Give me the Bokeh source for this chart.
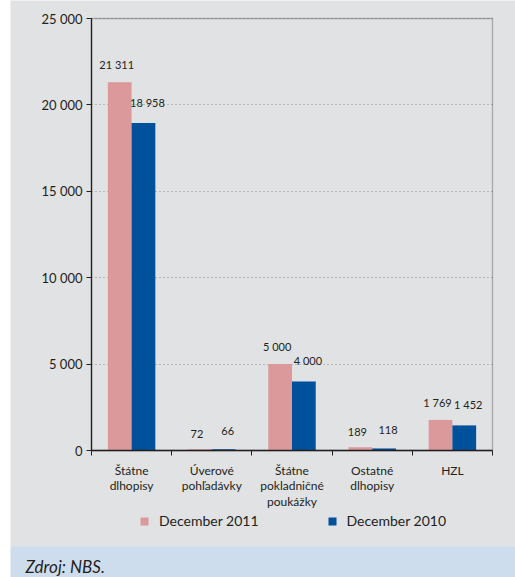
from bokeh.plotting import figure
from bokeh.models import (ColumnDataSource, FixedTicker, LabelSet, Legend,
                          LegendItem, Label, Range1d, BoxAnnotation)
from bokeh.embed import file_html
from bokeh.resources import INLINE
from bokeh.core.properties import value

# ---- data ----
categories = ["Štátne\ndlhopisy", "Úverové\npohľadávky",
              "Štátne\npokladničné\npoukážky", "Ostatné\ndlhopisy", "HZL"]
dec_2011 = [21311, 72, 5000, 189, 1769]
dec_2010 = [18958, 66, 4000, 118, 1452]
series_names = ["December 2011", "December 2010"]
y_ticks = [0, 5000, 10000, 15000, 20000, 25000]
y_tick_labels = ["0", "5 000", "10 000", "15 000", "20 000", "25 000"]
source_note = "Zdroj: NBS."

# ---- styles / layout (pixels) ----
BG = "#E1E2E4"
BAND = "#CEDDEE"
PINK = "#DB999C"
BLUE = "#00519B"
TXT = "#231F20"
FONT = "Lato"
BAR_W = 0.296
OFF = 0.148
W, H = 505, 577            # canvas
BOX_L, BOX_R = 81, 482     # plot box inside canvas (px from left)
BOX_T, BOX_B = 18, 450     # plot box inside canvas (px from top)
BAND_T = 546               # top of the source band (px from top)

n = len(categories)
y_max = y_ticks[-1]
xpp = n / (BOX_R - BOX_L)
ypp = y_max / (BOX_B - BOX_T)


def fmt(v):
    return f"{v:,}".replace(",", " ")


centers = [i + 0.5 for i in range(n)]
src = ColumnDataSource(dict(
    xa=[c - OFF for c in centers], xb=[c + OFF for c in centers],
    a=dec_2011, b=dec_2010,
    la=[fmt(v) for v in dec_2011], lb=[fmt(v) for v in dec_2010]))

p = figure(width=W, height=H,
           x_range=Range1d(-BOX_L * xpp, n + (W - BOX_R) * xpp),
           y_range=Range1d(-(H - BOX_B) * ypp, y_max + BOX_T * ypp),
           output_backend="svg", toolbar_location=None,
           min_border=0, margin=(0, 0, 0, 10))
p.background_fill_color = BG
p.border_fill_color = BG
p.outline_line_color = None

# source band
p.add_layout(BoxAnnotation(top=-(BAND_T - BOX_B) * ypp, fill_color=BAND,
                           fill_alpha=1, line_color=None, level="underlay"))

# plot box
p.add_layout(BoxAnnotation(left=0, right=n, bottom=0, top=y_max,
                           fill_alpha=0, line_color=TXT, line_width=1.3,
                           level="underlay"))

r1 = p.vbar(x="xa", top="a", width=BAR_W, source=src, fill_color=PINK, line_color=None)
r2 = p.vbar(x="xb", top="b", width=BAR_W, source=src, fill_color=BLUE, line_color=None)

for xf, yf, lf, dx, dy in (("xa", "a", "la", -3, 11), ("xb", "b", "lb", 4, 14)):
    p.add_layout(LabelSet(x=xf, y=yf, text=lf, source=src,
                          x_offset=dx, y_offset=dy,
                          text_align="center", text_baseline="bottom",
                          text_font=value(FONT), text_font_size="11px",
                          text_color=TXT))

# y axis
ya = p.yaxis[0]
ya.fixed_location = 0
ya.bounds = (0, y_max)
ya.ticker = FixedTicker(ticks=y_ticks)
ya.major_label_overrides = dict(zip(y_ticks, y_tick_labels))
ya.major_tick_out = 5
ya.major_tick_in = 0
ya.minor_tick_out = 0
ya.minor_tick_in = 0
ya.major_label_standoff = 4
ya.major_label_text_font = FONT
ya.major_label_text_font_size = "13px"
ya.major_label_text_color = TXT
ya.axis_line_color = TXT
ya.axis_line_width = 1.3
ya.major_tick_line_color = TXT

# x axis
xa = p.xaxis[0]
xa.fixed_location = 0
xa.bounds = (0, n)
xa.ticker = FixedTicker(ticks=centers, minor_ticks=list(range(n + 1)))
xa.major_label_overrides = dict(zip(centers, categories))
xa.major_tick_out = 0
xa.major_tick_in = 0
xa.minor_tick_out = 5
xa.minor_tick_in = 0
xa.major_label_standoff = 7
xa.major_label_text_font = FONT
xa.major_label_text_font_size = "12px"
xa.major_label_text_line_height = 1.05
xa.major_label_text_color = TXT
xa.axis_line_color = TXT
xa.axis_line_width = 1.3
xa.minor_tick_line_color = TXT

p.xgrid.visible = False
p.ygrid.ticker = FixedTicker(ticks=y_ticks[1:])
p.ygrid.cross_bounds = (0, n)
p.ygrid.grid_line_color = "#8E8E8E"
p.ygrid.grid_line_dash = "1 3"
p.ygrid.grid_line_width = 1

legend = Legend(items=[LegendItem(label=series_names[0], renderers=[r1]),
                       LegendItem(label=series_names[1], renderers=[r2])],
                orientation="horizontal", location=(129, 48),
                glyph_width=10, glyph_height=10, label_standoff=10,
                spacing=68, padding=0, margin=0,
                background_fill_alpha=0, border_line_color=None,
                label_text_font=FONT, label_text_font_size="14px",
                label_text_color=TXT)
p.add_layout(legend, "center")

p.add_layout(Label(x=15, y=1, x_units="screen", y_units="screen",
                   text=source_note, text_font=FONT, text_font_style="italic",
                   text_font_size="17px", text_color=TXT,
                   text_baseline="bottom"))

open("out.html", "w").write(file_html(p, INLINE))
